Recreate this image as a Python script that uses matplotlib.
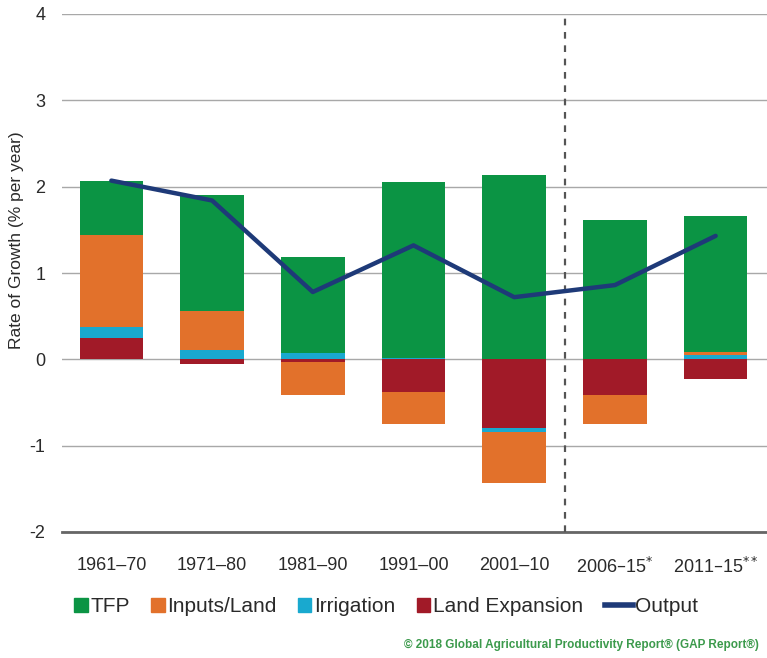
import matplotlib
matplotlib.use("Agg")
import matplotlib.pyplot as plt
import numpy as np
from matplotlib.patches import Patch
from matplotlib.lines import Line2D
from matplotlib.legend_handler import HandlerLine2D

plt.rcParams['font.family'] = ['Liberation Sans', 'DejaVu Sans']

# data
periods = ['1961–70', '1971–80', '1981–90', '1991–00', '2001–10',
           '2006–15$^{*}$', '2011–15$^{**}$']
land_expansion = [0.25, -0.05, -0.03, -0.38, -0.80, -0.41, -0.23]
irrigation = [0.12, 0.11, 0.07, 0.02, -0.04, 0.0, 0.05]
inputs_land = [1.07, 0.45, -0.38, -0.37, -0.59, -0.34, 0.04]
tfp = [0.63, 1.34, 1.12, 2.03, 2.14, 1.61, 1.57]
output = [2.07, 1.84, 0.78, 1.32, 0.72, 0.86, 1.43]

colors = {'TFP': '#0b9444', 'Inputs/Land': '#e2712b',
          'Irrigation': '#19a9cf', 'Land Expansion': '#a11a28'}
navy = '#1e3a78'
text_color = '#2a2a2a'


class WideLineHandler(HandlerLine2D):
    # make the Output line handle longer than the square patches
    def legend_artist(self, legend, orig_handle, fontsize, handlebox):
        handlebox.width *= 2.15
        return super().legend_artist(legend, orig_handle, fontsize, handlebox)


fig = plt.figure(figsize=(7.67, 6.58), dpi=100)
ax = fig.add_axes([62 / 767, 126 / 658, 705 / 767, 518 / 658])

x = np.arange(len(periods))
width = 0.63

# stack positive and negative parts separately
pos_base = np.zeros(len(x))
neg_base = np.zeros(len(x))
series = [('Land Expansion', land_expansion), ('Irrigation', irrigation),
          ('Inputs/Land', inputs_land), ('TFP', tfp)]
for name, vals in series:
    vals = np.array(vals)
    pos = np.where(vals > 0, vals, 0)
    neg = np.where(vals < 0, vals, 0)
    ax.bar(x, pos, width, bottom=pos_base, color=colors[name], zorder=2)
    ax.bar(x, neg, width, bottom=neg_base, color=colors[name], zorder=2)
    pos_base += pos
    neg_base += neg

ax.plot(x, output, color=navy, lw=3.2, zorder=4, solid_capstyle='round',
        solid_joinstyle='round')

ax.axvline(4.5, color='#555555', lw=1.6, ls=(0, (3, 3)), zorder=3)

ax.set_ylim(-2, 4)
ax.set_xlim(-0.49, 6.51)
ax.set_yticks(range(-2, 5))
ax.set_yticklabels([str(v) for v in range(-2, 5)])
ax.yaxis.grid(True, color='#a8a8a8', lw=1.0, zorder=0)
ax.set_axisbelow(True)
for s in ['top', 'right', 'left']:
    ax.spines[s].set_visible(False)
ax.spines['bottom'].set_color('#666666')
ax.spines['bottom'].set_linewidth(2.0)

ax.set_xticks(x)
ax.set_xticklabels(periods)
ax.tick_params(axis='x', length=0, pad=18, labelsize=13, colors=text_color)
ax.tick_params(axis='y', length=0, pad=12, labelsize=13, colors=text_color)
ax.set_ylabel('Rate of Growth (% per year)', fontsize=12.5, color=text_color)
ax.yaxis.set_label_coords(-0.054, 0.564)

handles = [Patch(color=colors['TFP'], label='TFP'),
           Patch(color=colors['Inputs/Land'], label='Inputs/Land'),
           Patch(color=colors['Irrigation'], label='Irrigation'),
           Patch(color=colors['Land Expansion'], label='Land Expansion')]
out_line = Line2D([], [], color=navy, lw=4, label='Output')
handles.append(out_line)
leg = fig.legend(handles=handles, loc='center left', bbox_to_anchor=(0.097, 0.078),
                 ncol=5, frameon=False, fontsize=15, handlelength=0.63,
                 handleheight=0.63, handletextpad=0.12, columnspacing=1.05,
                 borderpad=0, borderaxespad=0,
                 handler_map={out_line: WideLineHandler()})
for t in leg.get_texts():
    t.set_color(text_color)

fig.text(0.99, 0.02, '© 2018 Global Agricultural Productivity Report® (GAP Report®)',
         ha='right', va='center', fontsize=8.5, fontweight='bold', color='#3c9a4c')

fig.savefig('out.png', dpi=100)
